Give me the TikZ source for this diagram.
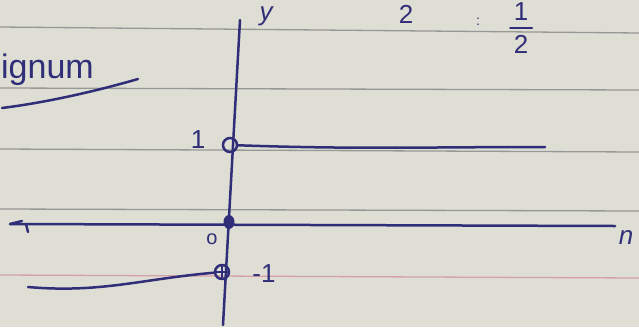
\documentclass[tikz,border=0pt]{standalone}
\usepackage{fontspec}
\setmainfont{Liberation Sans}
\definecolor{paper}{RGB}{222,222,212}
\definecolor{rule}{RGB}{150,152,150}
\definecolor{pinkrule}{RGB}{214,160,170}
\definecolor{ink}{RGB}{48,46,120}
\tikzset{
  inkline/.style={draw=ink, line width=2.5pt, line cap=round},
  rulel/.style={draw=rule, line width=1.3pt},
  lbl/.style={text=ink, font=\fontsize{26}{26}\selectfont, inner sep=0pt},
  opendot/.style={circle, draw=ink, line width=2.5pt, minimum size=14pt, inner sep=0pt},
  filldot/.style={ellipse, fill=ink, minimum width=11pt, minimum height=14pt, inner sep=0pt}
}
\usetikzlibrary{shapes.geometric}
\begin{document}
\begin{tikzpicture}[x=1pt,y=-1pt]
\fill[paper] (0,0) rectangle (639,327);
\useasboundingbox (0,0) rectangle (639,327);
% ruled lines
\draw[rulel] (0,27) -- (639,33);
\draw[rulel] (0,88) -- (639,90);
\draw[rulel] (0,149) -- (639,152);
\draw[rulel] (0,209) -- (639,211);
\draw[draw=pinkrule, line width=1.3pt] (0,275) -- (639,278);
% axes
\coordinate (ytop) at (240,20);
\coordinate (ybot) at (223,325);
\coordinate (xl) at (10,224);
\coordinate (xr) at (615,226);
\draw[inkline] (ytop) -- (ybot);
\draw[inkline] (xl) -- (xr);
\draw[inkline] (xl) -- ++(12,-3) (xl) ++(16,0) -- ++(2,8);
% labels of axes
\node[lbl] (ylab) at (266,16) {\itshape y};
\node[lbl] (xlab) at (626,238) {\itshape n};
\node[lbl, font=\fontsize{20}{20}\selectfont] (zero) at (212,239) {o};
% origin
\node[filldot] (orig) at (229,222) {};
% y = 1 branch
\node[opendot] (p1) at (230,145) {};
\node[lbl] (one) at (198,140) {1};
\coordinate (r1) at (545,147);
\draw[inkline] (p1) to[out=-2,in=180] (r1);
% y = -1 branch
\node[opendot] (m1) at (222,272) {};
\draw[draw=ink, line width=1.5pt] (m1.north) -- (m1.south) (m1.west) -- (m1.east);
\coordinate (l1) at (28,287);
\draw[inkline] (l1) to[out=-5,in=185] (m1);
\node[lbl] (mone) at (264,274) {-1};
% title fragment
\node[lbl, font=\fontsize{34}{34}\selectfont, anchor=west] (title) at (1,70) {ignum};
\coordinate (u1) at (2,108);
\coordinate (u2) at (138,79);
\draw[inkline] (u1) .. controls (50,102) and (100,90) .. (u2);
% top formula fragment
\node[lbl] (two) at (406,14) {2};
\node[lbl, font=\fontsize{14}{14}\selectfont] (colon) at (478,22) {:};
\node[lbl] (hn) at (521,12) {1};
\coordinate (hb1) at (510,28);
\coordinate (hb2) at (532,28);
\draw[inkline, line width=2pt] (hb1) -- (hb2);
\node[lbl] (hd) at (521,44) {2};
\end{tikzpicture}
\end{document}
